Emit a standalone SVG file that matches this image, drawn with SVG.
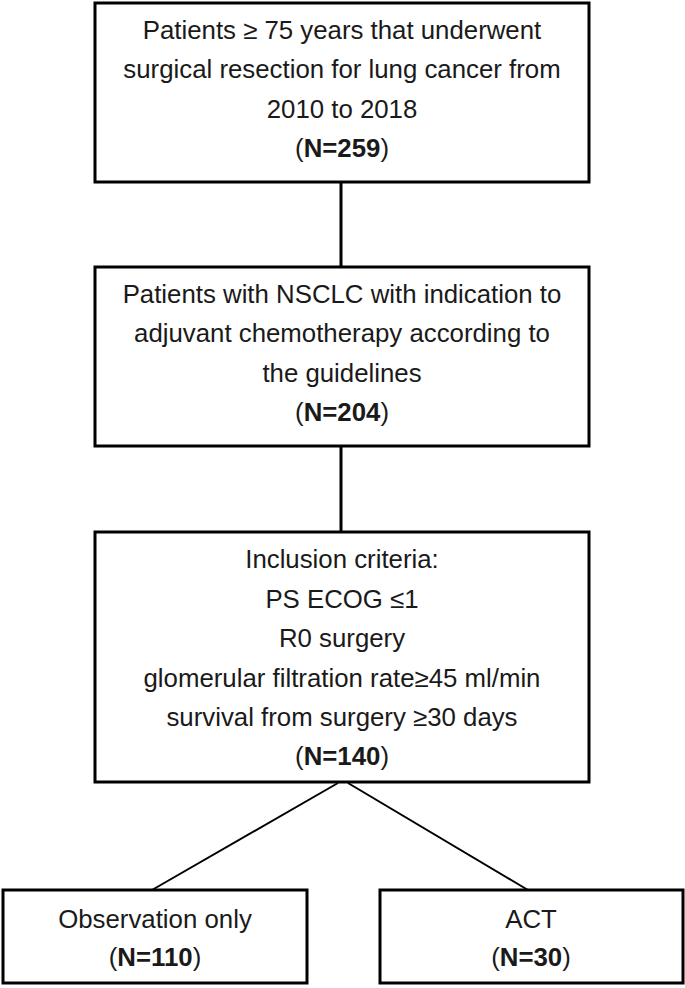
<svg xmlns="http://www.w3.org/2000/svg" width="685" height="988" viewBox="0 0 685 988">
  <style>
    .box { fill: #ffffff; stroke: #000000; stroke-width: 3; }
    .t { font-family: "Liberation Sans", Arial, sans-serif; font-size: 25.8px; fill: #1a1a1a; text-anchor: middle; }
    .b { font-weight: bold; }
    .conn { stroke: #000000; fill: none; }
  </style>
  <rect width="685" height="988" fill="#ffffff"/>
  <g id="connectors">
    <line class="conn" x1="341" y1="182" x2="341" y2="267" stroke-width="3"/>
    <line class="conn" x1="341" y1="446" x2="341" y2="532" stroke-width="3"/>
    <line class="conn" x1="338" y1="783" x2="152" y2="890" stroke-width="2"/>
    <line class="conn" x1="348" y1="783" x2="528" y2="890" stroke-width="2"/>
  </g>
  <g id="node1">
    <rect class="box" x="95" y="3" width="494" height="179"/>
    <text class="t" x="342" y="39">Patients ≥ 75 years that underwent</text>
    <text class="t" x="342" y="78">surgical resection for lung cancer from</text>
    <text class="t" x="342" y="118">2010 to 2018</text>
    <text class="t" x="342" y="157">(<tspan class="b">N=259</tspan>)</text>
  </g>
  <g id="node2">
    <rect class="box" x="95" y="267" width="494" height="179"/>
    <text class="t" x="342" y="303">Patients with NSCLC with indication to</text>
    <text class="t" x="342" y="342">adjuvant chemotherapy according to</text>
    <text class="t" x="342" y="382">the guidelines</text>
    <text class="t" x="342" y="421">(<tspan class="b">N=204</tspan>)</text>
  </g>
  <g id="node3">
    <rect class="box" x="95" y="532" width="494" height="250"/>
    <text class="t" x="342" y="568">Inclusion criteria:</text>
    <text class="t" x="342" y="608">PS ECOG ≤1</text>
    <text class="t" x="342" y="647">R0 surgery</text>
    <text class="t" x="342" y="687">glomerular filtration rate≥45 ml/min</text>
    <text class="t" x="342" y="726">survival from surgery ≥30 days</text>
    <text class="t" x="342" y="765">(<tspan class="b">N=140</tspan>)</text>
  </g>
  <g id="node4">
    <rect class="box" x="3" y="890" width="304" height="93"/>
    <text class="t" x="155" y="928">Observation only</text>
    <text class="t" x="155" y="966">(<tspan class="b">N=110</tspan>)</text>
  </g>
  <g id="node5">
    <rect class="box" x="380" y="890" width="303" height="93"/>
    <text class="t" x="531" y="928">ACT</text>
    <text class="t" x="531" y="966">(<tspan class="b">N=30</tspan>)</text>
  </g>
</svg>
